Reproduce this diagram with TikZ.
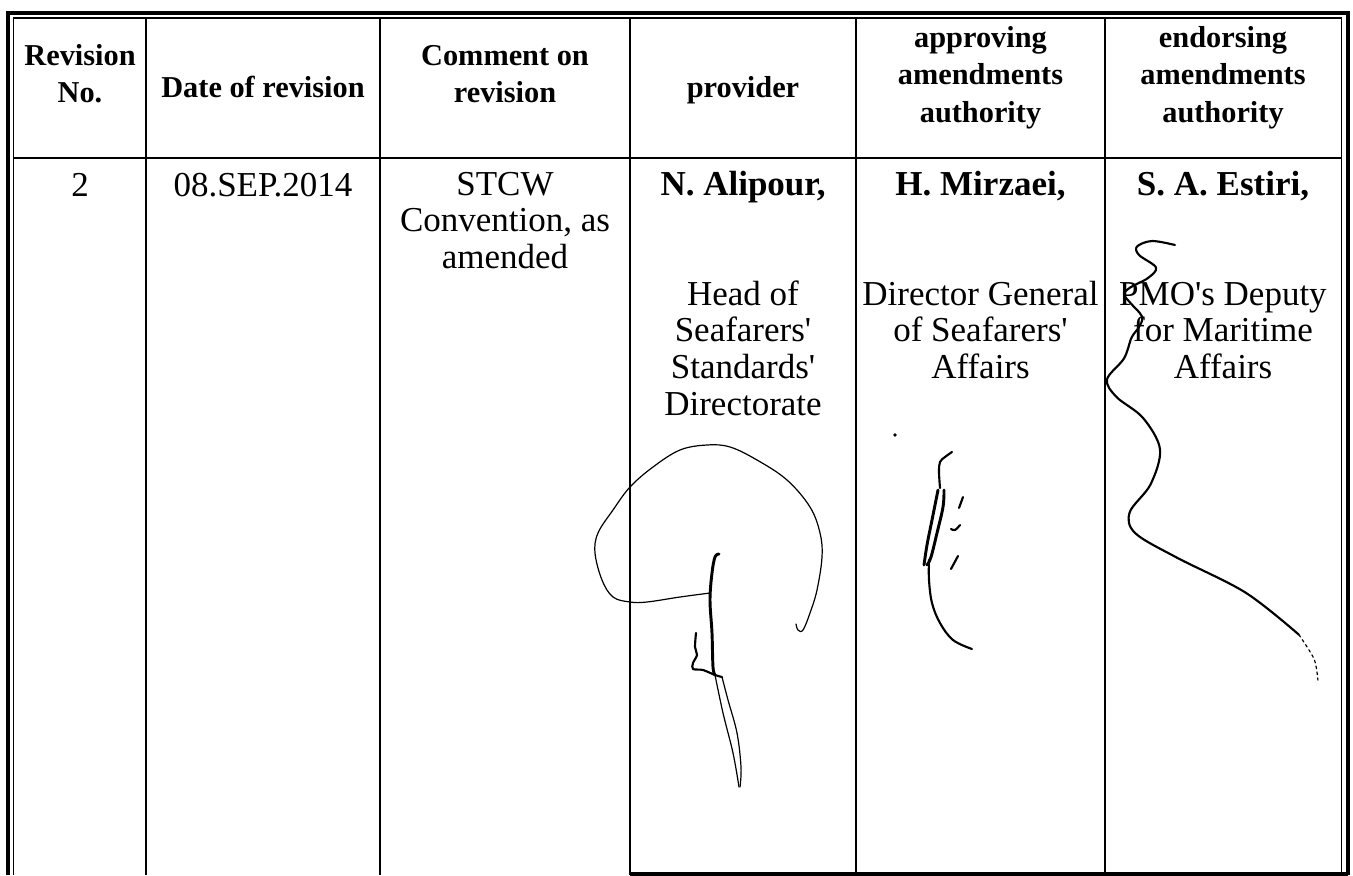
\documentclass[tikz,border=0pt]{standalone}
\usepackage{fontspec}
\setmainfont{Liberation Serif}
\newcommand\hstrut{\rule{0pt}{17pt}}
\newcommand\bstrut{\rule{0pt}{20pt}}
\begin{document}
\begin{tikzpicture}[x=0.75pt,y=-0.75pt,
  thickb/.style={line width=3pt},
  thinb/.style={line width=1.1pt},
  gridline/.style={line width=1.2pt},
  hd/.style={font=\fontsize{22.75pt}{28.1pt}\selectfont\bfseries, align=center, inner sep=0pt, anchor=north},
  hdtwo/.style={hd, font=\fontsize{22.75pt}{27.75pt}\selectfont\bfseries},
  bd/.style={font=\fontsize{26.25pt}{27.5pt}\selectfont, align=center, inner sep=0pt, anchor=north},
  sig/.style={line width=0.9pt, line cap=round, line join=round},
  sigb/.style={line width=1.6pt, line cap=round, line join=round},
  sigbb/.style={line width=2.2pt, line cap=round, line join=round}]
\useasboundingbox (0,0) rectangle (1353,875);
% borders
\draw[thickb] (8,875) -- (8,13) -- (1348,13) -- (1348,875);
\draw[thickb] (630,873.5) -- (1348,873.5);
\draw[thinb] (13.5,875) -- (13.5,18) -- (1341.5,18) -- (1341.5,875);
\draw[gridline] (13.5,158) -- (1341.5,158);
\foreach \x in {146,380,630,856,1105} \draw[gridline] (\x,18) -- (\x,875);
% header
\node[hdtwo] (h1) at (80,42.3) {\hstrut Revision\\No.};
\node[hd] (h2) at (263,74.3) {\hstrut Date of revision};
\node[hdtwo] (h3) at (505,42.3) {\hstrut Comment on\\revision};
\node[hd] (h4) at (743,74.3) {\hstrut provider};
\node[hd] (h5) at (980.5,24.3) {\hstrut approving\\amendments\\authority};
\node[hd] (h6) at (1223,24.3) {\hstrut endorsing\\amendments\\authority};
% body
\node[bd] (b1) at (80,169.3) {\bstrut 2};
\node[bd] (b2) at (263,169.3) {\bstrut 08.SEP.2014};
\node[bd] (b3) at (505,168.3) {\bstrut STCW\\Convention, as\\amended};
\node[bd] (b4) at (743,168.3) {\bstrut\textbf{N. Alipour,}\\[55pt]Head of\\Seafarers\textquotesingle\\Standards\textquotesingle\\Directorate};
\node[bd] (b5) at (980.5,168.3) {\bstrut\textbf{H. Mirzaei,}\\[55pt]Director General\\of Seafarers\textquotesingle\\Affairs};
\node[bd] (b6) at (1223,168.3) {\bstrut\textbf{S. A. Estiri,}\\[55pt]PMO\textquotesingle s Deputy\\for Maritime\\Affairs};
% provider signature
\draw[sig] plot[smooth, tension=0.6] coordinates {(710,593) (680,597) (647,602) (630,602) (613,597) (602,580) (595,553) (598,533) (613,510) (630,487) (653,467) (680,450) (707,445) (730,447) (757,460) (787,480) (810,507) (820,533) (822,557) (817,590) (810,613) (803,630) (798,630) (796,624)};
\draw[sigbb] plot[smooth, tension=0.6] coordinates {(719,554) (715,557) (712,573) (710,600) (712,633) (713,667) (715,675)};
\draw[sig] plot[smooth, tension=0.6] coordinates {(715,675) (723,713) (733,753) (739,787)};
\draw[sig] plot[smooth, tension=0.6] coordinates {(722,677) (728,700) (737,733) (741,767) (740,787)};
\draw[sigb] plot[smooth, tension=0.5] coordinates {(696,633) (695,647) (697,655) (693,663) (693,669) (703,670) (715,675) (722,677)};
% approving signature
\fill (895,435) circle (1.8);
\draw[sigb] plot[smooth, tension=0.6] coordinates {(952,452) (945,457) (940,462) (939,472) (940,488)};
\draw[sigbb] plot[smooth, tension=0.6] coordinates {(938,490) (932,520) (927,545) (924,565)};
\draw[sigbb] plot[smooth, tension=0.6] coordinates {(944,490) (943,507) (937,533) (931,557) (927,565)};
\draw[sigb] plot[smooth, tension=0.6] coordinates {(929,560) (929,580) (932,603) (940,623) (953,640) (972,649)};
\draw[sigb] (963,497) -- (959,508);
\draw[sigb] plot[smooth, tension=0.6] coordinates {(951,529) (955,530) (960,525)};
\draw[sigb] (958,556) -- (951,569);
% endorsing signature
\draw[sigb] plot[smooth, tension=0.55] coordinates {(1175,245) (1152,241) (1137,246.5) (1139,255) (1156,267.5) (1148,278) (1131,287) (1124,294) (1130,302.5) (1142,316.5) (1139,327) (1131.6,337.5) (1124,358.4) (1107,379.4) (1116.4,396.9) (1143,417.9) (1160,449.3) (1150.6,484.3) (1129.7,512.3) (1135.4,533.3) (1177.2,557.8) (1245.7,592.7) (1298.9,634.7)};
\draw[sig, dash pattern=on 2pt off 2.5pt] plot[smooth] coordinates {(1298.9,634.7) (1314.1,659.1) (1317.9,680.1)};
\end{tikzpicture}
\end{document}
